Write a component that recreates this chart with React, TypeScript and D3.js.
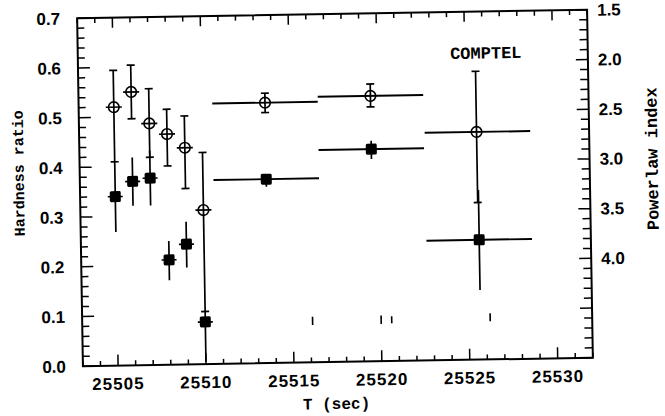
import React from "react";
import * as d3 from "d3";

const W = 665;
const H = 416;
const PL = 80, PR = 590, PT = 14, PB = 362;

// Hardness ratio (filled squares, left axis)
const hrTime = [25505, 25506, 25507, 25508, 25509, 25510, 25513.6, 25519.6, 25525.65];
const hrValue = [0.340, 0.370, 0.376, 0.211, 0.242, 0.085, 0.370, 0.427, 0.241];
const hrLow = [0.269, 0.321, 0.321, 0.170, 0.195, 0.005, 0.355, 0.407, 0.140];
const hrHigh = [0.410, 0.418, 0.431, 0.249, 0.287, 0.105, 0.378, 0.444, 0.341];

// Powerlaw index (open circles, right axis)
const plTime = [25505, 25506, 25507, 25508, 25509, 25510, 25513.6, 25519.6, 25525.6];
const plValue = [2.40, 2.25, 2.57, 2.68, 2.82, 3.45, 2.38, 2.33, 2.71];
const plLow = [2.03, 1.98, 2.22, 2.43, 2.50, 2.87, 2.285, 2.21, 2.10];
const plHigh = [2.95, 2.52, 2.91, 3.00, 3.23, 4.47, 2.48, 2.44, 3.42];

// Time bins (start / end) — narrow points have no horizontal bar
const binStart = [25505, 25506, 25507, 25508, 25509, 25510, 25510.6, 25516.6, 25522.65];
const binEnd = [25505, 25506, 25507, 25508, 25509, 25510, 25516.6, 25522.6, 25528.65];

// Event marks near the bottom
const markTime = [25516.1, 25520.0, 25520.6, 25526.2];
const markLow = [0.075, 0.075, 0.076, 0.077];
const markHigh = [0.092, 0.092, 0.090, 0.093];

const xDomain = [25503, 25532];
const hrDomain = [0, 0.7];
const plDomain = [1.5, 5.0];
const xTickLabels = [25505, 25510, 25515, 25520, 25525, 25530];
const hrTickLabels = [0, 0.1, 0.2, 0.3, 0.4, 0.5, 0.6, 0.7];
const plTickLabels = [1.5, 2.0, 2.5, 3.0, 3.5, 4.0];

const sansFont = "'Liberation Sans', Arial, sans-serif";
const monoFont = "'Liberation Mono', 'DejaVu Sans Mono', monospace";

export default function App() {
  const x = d3.scaleLinear().domain(xDomain).range([PL, PR]);
  const yL = d3.scaleLinear().domain(hrDomain).range([PB, PT]);
  const yR = d3.scaleLinear().domain(plDomain).range([PT, PB]);

  const xTicks = d3.range(xDomain[0], xDomain[1] + 1, 1);
  const lTicks = d3.range(0, 36).map((i) => ({ v: i * 0.02, major: i % 5 === 0 }));
  const rTicks = d3.range(15, 51).map((i) => ({ v: i / 10, major: i % 5 === 0 }));

  const sw = 1.7;

  return (
    <svg
      width={W}
      height={H}
      style={{ position: "absolute", left: 0, top: 0, display: "block", background: "#fff" }}
    >
      <rect x={0} y={0} width={W} height={H} fill="#fff" />
      <g transform="rotate(-0.95, 335, 188)" stroke="#000" fill="none">
        {/* frame */}
        <rect x={PL} y={PT} width={PR - PL} height={PB - PT} strokeWidth={2} />
        {/* x ticks bottom & top */}
        {xTicks.map((t) => {
          const major = t % 5 === 0;
          const len = major ? 11 : 5;
          return (
            <g key={"xt" + t}>
              <line x1={x(t)} x2={x(t)} y1={PB} y2={PB - len} strokeWidth={1.5} />
              <line x1={x(t)} x2={x(t)} y1={PT} y2={PT + (major ? 10 : 5)} strokeWidth={1.5} />
            </g>
          );
        })}
        {/* left ticks */}
        {lTicks.map((d, i) => (
          <line key={"lt" + i} x1={PL} x2={PL + (d.major ? 12 : 7)} y1={yL(d.v)} y2={yL(d.v)} strokeWidth={1.5} />
        ))}
        {/* right ticks */}
        {rTicks.map((d, i) => (
          <line key={"rt" + i} x1={PR} x2={PR - (d.major ? 12 : 8)} y1={yR(d.v)} y2={yR(d.v)} strokeWidth={1.5} />
        ))}

        {/* x tick labels */}
        {xTickLabels.map((t) => (
          <text
            key={"xl" + t}
            x={x(t)}
            y={PB + 24}
            textAnchor="middle"
            fontFamily={sansFont}
            fontWeight="bold"
            fontSize={17}
            letterSpacing={1}
            fill="#000"
            stroke="none"
          >
            {t}
          </text>
        ))}
        {/* left tick labels */}
        {hrTickLabels.map((v) => (
          <text
            key={"yl" + v}
            x={PL - 17}
            y={yL(v)}
            dy="0.36em"
            textAnchor="end"
            fontFamily={sansFont}
            fontWeight="bold"
            fontSize={17}
            fill="#000"
            stroke="none"
          >
            {v.toFixed(1)}
          </text>
        ))}
        {/* right tick labels */}
        {plTickLabels.map((v) => (
          <text
            key={"yr" + v}
            x={PR + 10}
            y={yR(v)}
            dy="0.36em"
            textAnchor="start"
            fontFamily={sansFont}
            fontWeight="bold"
            fontSize={17}
            fill="#000"
            stroke="none"
          >
            {v.toFixed(1)}
          </text>
        ))}

        {/* axis titles */}
        <text x={333} y={409} textAnchor="middle" fontFamily={monoFont} fontWeight="bold" fontSize={16} fill="#000" stroke="none">
          T (sec)
        </text>
        <text
          transform="translate(24,168) rotate(-90)"
          textAnchor="middle"
          fontFamily={monoFont}
          fontWeight="bold"
          fontSize={15}
          fill="#000"
          stroke="none"
        >
          Hardness ratio
        </text>
        <text
          transform="translate(658,164) rotate(-90)"
          textAnchor="middle"
          fontFamily={monoFont}
          fontWeight="bold"
          fontSize={17}
          fill="#000"
          stroke="none"
        >
          Powerlaw index
        </text>
        <text x={488} y={61} textAnchor="middle" fontFamily={monoFont} fontWeight="bold" fontSize={17} fill="#000" stroke="none">
          COMPTEL
        </text>

        {/* event marks */}
        {markTime.map((t, i) => (
          <line key={"m" + i} x1={x(t)} x2={x(t)} y1={yL(markLow[i])} y2={yL(markHigh[i])} strokeWidth={1.6} />
        ))}

        {/* hardness ratio: filled squares */}
        {hrTime.map((t, i) => {
          const cx = x(t);
          const cy = yL(hrValue[i]);
          const wide = binEnd[i] > binStart[i];
          return (
            <g key={"hr" + i}>
              <line x1={cx} x2={cx} y1={yL(hrLow[i])} y2={yL(hrHigh[i])} strokeWidth={sw} />
              {wide ? (
                <line x1={x(binStart[i])} x2={x(binEnd[i])} y1={cy} y2={cy} strokeWidth={1.9} />
              ) : (
                <line x1={cx - 7.5} x2={cx + 7.5} y1={cy} y2={cy} strokeWidth={sw} />
              )}
              <rect x={cx - 5.5} y={cy - 5.5} width={11} height={11} rx={1.5} fill="#000" stroke="none" />
            </g>
          );
        })}

        {/* powerlaw index: open circles */}
        {plTime.map((t, i) => {
          const cx = x(t);
          const cy = yR(plValue[i]);
          const wide = binEnd[i] > binStart[i];
          const top = yR(plLow[i]);
          const bot = yR(plHigh[i]);
          return (
            <g key={"pl" + i}>
              <line x1={cx} x2={cx} y1={top} y2={bot} strokeWidth={sw} />
              <line x1={cx - 4} x2={cx + 4} y1={top} y2={top} strokeWidth={sw} />
              <line x1={cx - 4} x2={cx + 4} y1={bot} y2={bot} strokeWidth={sw} />
              {wide ? (
                <line x1={x(binStart[i])} x2={x(binEnd[i])} y1={cy} y2={cy} strokeWidth={1.9} />
              ) : (
                <line x1={cx - 8} x2={cx + 8} y1={cy} y2={cy} strokeWidth={sw} />
              )}
              <circle cx={cx} cy={cy} r={5.3} fill="none" strokeWidth={1.6} />
            </g>
          );
        })}
      </g>
    </svg>
  );
}
